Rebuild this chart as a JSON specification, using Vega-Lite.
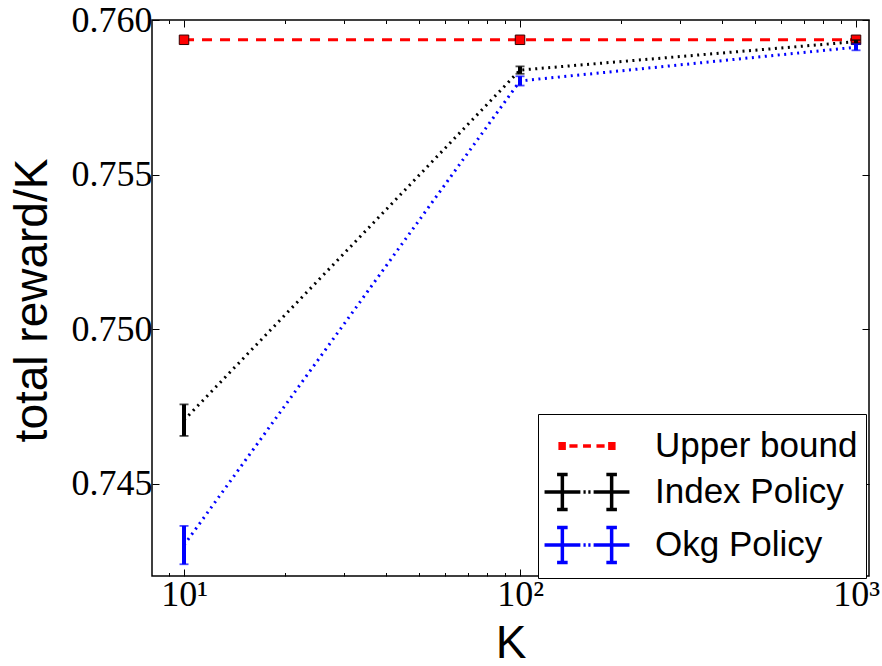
{
  "$schema": "https://vega.github.io/schema/vega-lite/v6.json",
  "autosize": {"type": "none"},
  "width": 717,
  "height": 556,
  "padding": {"left": 152, "top": 20, "right": 13, "bottom": 90},
  "background": "white",
  "config": {
    "view": {"stroke": "black", "strokeWidth": 1.5},
    "axis": {"grid": false, "domain": false, "labelColor": "black", "tickColor": "black", "tickWidth": 1, "titleColor": "black"},
    "legend": {
      "title": null, "orient": "none", "legendX": 386, "legendY": 394,
      "strokeColor": "black", "fillColor": "white", "padding": 8, "cornerRadius": 0,
      "symbolSize": 1936, "symbolStrokeWidth": 3.5, "symbolOpacity": 1, "symbolOffset": 17,
      "labelFont": "Liberation Sans", "labelFontSize": 35, "labelColor": "black", "labelOffset": 44,
      "labelLimit": 400, "rowPadding": 3
    }
  },
  "data": {
    "values": [
      {"K": 10, "series": "Upper bound", "y": 0.75936},
      {"K": 100, "series": "Upper bound", "y": 0.75936},
      {"K": 1000, "series": "Upper bound", "y": 0.75936},
      {"K": 10, "series": "Index Policy", "y": 0.74706, "lo": 0.74655, "hi": 0.74757},
      {"K": 100, "series": "Index Policy", "y": 0.75838, "lo": 0.75826, "hi": 0.7585},
      {"K": 1000, "series": "Index Policy", "y": 0.7593, "lo": 0.75925, "hi": 0.75935},
      {"K": 10, "series": "Okg Policy", "y": 0.74302, "lo": 0.7424, "hi": 0.74364},
      {"K": 100, "series": "Okg Policy", "y": 0.75803, "lo": 0.75788, "hi": 0.75818},
      {"K": 1000, "series": "Okg Policy", "y": 0.75912, "lo": 0.75902, "hi": 0.75922}
    ]
  },
  "layer": [
    {
      "mark": {"type": "line", "strokeWidth": 3},
      "encoding": {
        "x": {"field": "K", "type": "quantitative",
          "scale": {"type": "log", "domain": [8.03, 1093], "nice": false},
          "axis": {"orient": "bottom", "title": "K", "values": [9,10,20,30,40,50,60,70,80,90,100,200,300,400,500,600,700,800,900,1000],
            "labelExpr": "datum.value == 10 ? '10¹' : datum.value == 100 ? '10²' : datum.value == 1000 ? '10³' : ''",
            "tickSize": {"condition": {"test": "datum.value == 10 || datum.value == 100 || datum.value == 1000", "value": -7}, "value": -3.5},
            "labelFont": "Liberation Serif", "labelFontSize": 36, "labelPadding": 8, "labelBaseline": "top", "labelFlush": false,
            "labelOverlap": false,
            "titleFont": "Liberation Sans", "titleFontSize": 46, "titleFontWeight": "normal",
            "titleX": 358.5, "titleY": 81, "titleBaseline": "alphabetic", "titleAlign": "center"}},
        "y": {"field": "y", "type": "quantitative",
          "scale": {"domain": [0.74202, 0.76], "nice": false, "zero": false},
          "axis": {"orient": "left", "title": "total reward/K", "values": [0.745, 0.75, 0.755, 0.76], "format": ".3f",
            "tickSize": -7, "labelFont": "Liberation Serif", "labelFontSize": 36, "labelPadding": 7,
            "labelFlush": false, "labelOverlap": false, "labelBaseline": "middle",
            "titleFont": "Liberation Sans", "titleFontSize": 46, "titleFontWeight": "normal",
            "titleX": -106, "titleY": 280, "titleBaseline": "alphabetic", "titleAlign": "center", "titleAngle": -90}},
        "color": {"field": "series", "type": "nominal", "legend": null,
          "scale": {"domain": ["Index Policy", "Okg Policy", "Upper bound"], "range": ["#000000", "#0000ff", "#ff0000"]}},
        "strokeDash": {"field": "series", "type": "nominal", "legend": null,
          "scale": {"domain": ["Index Policy", "Okg Policy", "Upper bound"], "range": [[2, 4.5], [2, 4.5], [10, 8]]}}
      }
    },
    {
      "transform": [{"filter": "datum.series == 'Upper bound'"}],
      "mark": {"type": "point", "shape": "square", "size": 90, "filled": true, "fill": "#ff0000", "stroke": "#330000", "strokeWidth": 1, "opacity": 1},
      "encoding": {
        "x": {"field": "K", "type": "quantitative",
          "axis": {"orient": "top", "title": null, "labels": false, "values": [9,10,20,30,40,50,60,70,80,90,100,200,300,400,500,600,700,800,900,1000],
            "tickSize": {"condition": {"test": "datum.value == 10 || datum.value == 100 || datum.value == 1000", "value": -7}, "value": -3.5}}},
        "y": {"field": "y", "type": "quantitative",
          "axis": {"orient": "right", "title": null, "labels": false, "values": [0.745, 0.75, 0.755, 0.76], "tickSize": -7}}
      }
    },
    {
      "transform": [{"filter": "datum.series != 'Upper bound'"}],
      "mark": {"type": "rule", "strokeWidth": 4},
      "encoding": {
        "x": {"field": "K", "type": "quantitative", "axis": null},
        "y": {"field": "lo", "type": "quantitative", "axis": null},
        "y2": {"field": "hi"},
        "color": {"field": "series", "type": "nominal", "legend": null}
      }
    },
    {
      "transform": [{"filter": "datum.series != 'Upper bound'"}],
      "mark": {"type": "tick", "orient": "horizontal", "size": 9, "thickness": 1.8},
      "encoding": {
        "x": {"field": "K", "type": "quantitative", "axis": null},
        "y": {"field": "lo", "type": "quantitative", "axis": null},
        "color": {"field": "series", "type": "nominal", "legend": null}
      }
    },
    {
      "transform": [{"filter": "datum.series != 'Upper bound'"}],
      "mark": {"type": "tick", "orient": "horizontal", "size": 9, "thickness": 1.8},
      "encoding": {
        "x": {"field": "K", "type": "quantitative", "axis": null},
        "y": {"field": "hi", "type": "quantitative", "axis": null},
        "color": {"field": "series", "type": "nominal", "legend": null}
      }
    },
    {
      "mark": {"type": "point", "filled": true, "opacity": 0},
      "encoding": {
        "x": {"field": "K", "type": "quantitative", "axis": null},
        "y": {"field": "y", "type": "quantitative", "axis": null},
        "fill": {"field": "series", "type": "nominal",
          "scale": {"domain": ["Upper bound", "Index Policy", "Okg Policy"], "range": ["#ff0000", "#000000", "#0000ff"]}},
        "stroke": {"field": "series", "type": "nominal",
          "scale": {"domain": ["Upper bound", "Index Policy", "Okg Policy"], "range": ["#ff0000", "#000000", "#0000ff"]}},
        "shape": {"field": "series", "type": "nominal",
          "scale": {"domain": ["Upper bound", "Index Policy", "Okg Policy"],
            "range": [
              "M-1.22,-0.1H-1.04V0.1H-1.22Z M1.04,-0.1H1.22V0.1H1.04Z M-0.8,0H-0.43 M-0.18,0H0.18 M0.43,0H0.8",
              "M-1.93,0H-0.3 M-1.12,-0.8V0.8 M-1.36,-0.8H-0.88 M-1.36,0.8H-0.88 M0.3,0H1.93 M1.12,-0.8V0.8 M0.88,-0.8H1.36 M0.88,0.8H1.36 M-0.16,0H-0.06 M0.06,0H0.16",
              "M-1.93,0H-0.3 M-1.12,-0.8V0.8 M-1.36,-0.8H-0.88 M-1.36,0.8H-0.88 M0.3,0H1.93 M1.12,-0.8V0.8 M0.88,-0.8H1.36 M0.88,0.8H1.36 M-0.16,0H-0.06 M0.06,0H0.16"
            ]}}
      }
    }
  ],
  "resolve": {"axis": {"x": "independent", "y": "independent"}}
}
